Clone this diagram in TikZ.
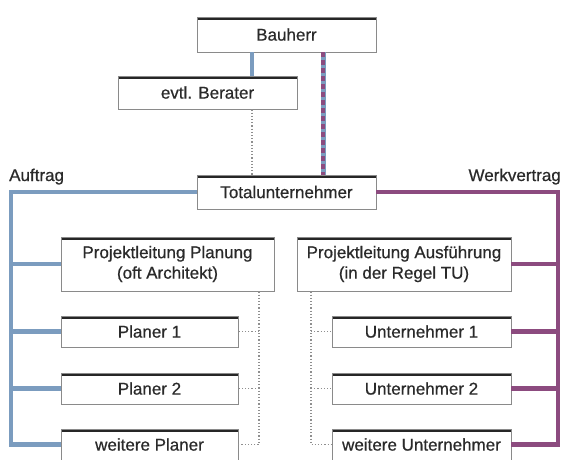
\documentclass[tikz,border=0pt]{standalone}
\usepackage{fontspec}
\setmainfont{Liberation Sans}[UprightFeatures={FakeBold=0.6}]
\definecolor{auftragblue}{HTML}{7B9CBF}
\definecolor{werkpurple}{HTML}{8C4B7F}
\definecolor{txtgray}{HTML}{2A2A2A}
\definecolor{boxedge}{HTML}{8A8A8A}
\definecolor{dotgray}{HTML}{8F8F8F}
\begin{document}
\begin{tikzpicture}[x=1pt,y=-1pt,
  orgbox/.style={draw=boxedge, line width=0.8pt, fill=white, inner sep=0pt,
    align=center, text=txtgray, font=\fontsize{17}{20.5}\selectfont,
    path picture={\draw[black!85, line width=5.2pt]
      (path picture bounding box.north west) -- (path picture bounding box.north east);}},
  blueline/.style={draw=auftragblue, line width=4.5pt},
  purpleline/.style={draw=werkpurple, line width=4.5pt},
  dotline/.style={draw=dotgray, line width=1.3pt, dash pattern=on 1.2pt off 2pt},
  lbl/.style={text=txtgray, font=\fontsize{17}{20}\selectfont, inner sep=0pt}
]
\useasboundingbox (0,0) rectangle (566,459);
\clip (0,0) rectangle (566,459);

% nodes
\node[orgbox, minimum width=179pt, minimum height=35pt] (bau) at (286.5,34.5) {Bauherr};
\node[orgbox, minimum width=179pt, minimum height=33pt] (ber) at (207.5,92.5) {evtl. Berater};
\node[orgbox, minimum width=179pt, minimum height=34pt] (tu) at (286.5,192) {Totalunternehmer};

\node[orgbox, minimum width=213pt, minimum height=54pt] (plp) at (167.5,264) {Projektleitung Planung\\(oft Architekt)};
\node[orgbox, minimum width=177pt, minimum height=31pt] (p1) at (149.5,331.5) {Planer 1};
\node[orgbox, minimum width=177pt, minimum height=31pt] (p2) at (149.5,388.5) {Planer 2};
\node[orgbox, minimum width=177pt, minimum height=31pt] (wp) at (149.5,444.5) {weitere Planer};

\node[orgbox, minimum width=214pt, minimum height=54pt] (pla) at (404,264) {Projektleitung Ausführung\\(in der Regel TU)};
\node[orgbox, minimum width=179pt, minimum height=31pt] (u1) at (421.5,331.5) {Unternehmer 1};
\node[orgbox, minimum width=179pt, minimum height=31pt] (u2) at (421.5,388.5) {Unternehmer 2};
\node[orgbox, minimum width=179pt, minimum height=31pt] (wu) at (421.5,444.5) {weitere Unternehmer};

\node[lbl, anchor=base west] (auf) at (9,181) {Auftrag};
\node[lbl, anchor=base east] (werk) at (561,181) {Werkvertrag};

% connector coordinates
\coordinate (blx) at (11,0);
\coordinate (prx) at (558,0);
\coordinate (dlx) at (259,0);
\coordinate (drx) at (311,0);
\coordinate (bbx) at (252,0);
\coordinate (dx) at (323,0);

% Bauherr -> Berater (blue)
\draw[blueline] (bbx |- bau.south) -- (bbx |- ber.north);
% Berater -> TU dotted
\draw[dotline] (bbx |- ber.south) -- (bbx |- tu.north);
% Bauherr -> TU dashed blue/purple
\draw[blueline, line width=5pt] (dx |- bau.south) -- (dx |- tu.north);
\draw[draw=werkpurple, line width=3.4pt, dash pattern=on 4.5pt off 3.5pt] (dx |- bau.south) -- (dx |- tu.north);

% Auftrag (blue)
\draw[blueline, line join=miter] (tu.west) -| (blx |- wp.west) -- (wp.west);
\draw[blueline] (blx |- plp.west) -- (plp.west);
\draw[blueline] (blx |- p1.west) -- (p1.west);
\draw[blueline] (blx |- p2.west) -- (p2.west);

% Werkvertrag (purple)
\draw[purpleline, line join=miter] (tu.east) -| (prx |- wu.east) -- (wu.east);
\draw[purpleline] (prx |- pla.east) -- (pla.east);
\draw[purpleline] (prx |- u1.east) -- (u1.east);
\draw[purpleline] (prx |- u2.east) -- (u2.east);

% dotted internal links, left
\draw[dotline] (dlx |- plp.south) -- (dlx |- wp.east) -- (wp.east);
\draw[dotline] (dlx |- p1.east) -- (p1.east);
\draw[dotline] (dlx |- p2.east) -- (p2.east);
% dotted internal links, right
\draw[dotline] (drx |- pla.south) -- (drx |- wu.west) -- (wu.west);
\draw[dotline] (drx |- u1.west) -- (u1.west);
\draw[dotline] (drx |- u2.west) -- (u2.west);
\end{tikzpicture}
\end{document}
